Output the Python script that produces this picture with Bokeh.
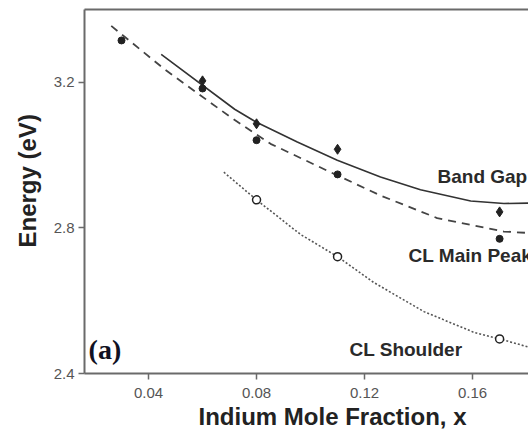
from bokeh.plotting import figure
from bokeh.models import LinearAxis, FixedTicker, Range1d, Title
from bokeh.embed import file_html
from bokeh.resources import INLINE
from bokeh.core.properties import value

# ---- data ----
band_gap_x = [0.06, 0.08, 0.11, 0.17]
band_gap_y = [3.204, 3.086, 3.016, 2.844]

main_peak_x = [0.03, 0.06, 0.08, 0.11, 0.17]
main_peak_y = [3.315, 3.183, 3.041, 2.947, 2.770]

shoulder_x = [0.08, 0.11, 0.17]
shoulder_y = [2.877, 2.721, 2.495]

band_gap_fit_x = [0.0447, 0.0719, 0.0800, 0.0951, 0.1099, 0.1259, 0.1407, 0.1593, 0.1716, 0.1810]
band_gap_fit_y = [3.277, 3.126, 3.090, 3.036, 2.986, 2.940, 2.905, 2.874, 2.867, 2.868]

main_peak_fit_x = [0.0262, 0.0459, 0.0706, 0.0852, 0.1074, 0.1259, 0.1469, 0.1716, 0.1810]
main_peak_fit_y = [3.355, 3.236, 3.103, 3.031, 2.953, 2.889, 2.827, 2.790, 2.786]

shoulder_fit_x = [0.0679, 0.0800, 0.0963, 0.1100, 0.1234, 0.1420, 0.1605, 0.1700, 0.1810]
shoulder_fit_y = [2.953, 2.877, 2.782, 2.721, 2.650, 2.570, 2.513, 2.495, 2.472]

series_labels = ["Band Gap", "CL Main Peak", "CL Shoulder"]
panel_label = "(a)"
x_title = "Indium Mole Fraction, x"
y_title = "Energy (eV)"

x_ticks = [0.04, 0.08, 0.12, 0.16]
y_ticks = [2.4, 2.8, 3.2]

# ---- figure ----
FONT = "Liberation Sans"
AX = "#6a6a6a"
INK = "#222222"

p = figure(width=528, height=433, output_backend="svg", toolbar_location=None,
           x_range=Range1d(0.0163, 0.1807), y_range=Range1d(2.4, 3.4),
           min_border_left=84, min_border_right=0, min_border_top=9, min_border_bottom=60)
p.outline_line_color = None
p.grid.visible = False
p.background_fill_color = "white"

for ax in (p.xaxis[0], p.yaxis[0]):
    ax.axis_line_color = AX
    ax.axis_line_width = 2
    ax.major_tick_line_color = AX
    ax.major_tick_line_width = 1.5
    ax.major_tick_in = 0
    ax.major_tick_out = 6
    ax.minor_tick_line_color = None
    ax.major_label_text_font = FONT
    ax.major_label_text_font_size = "15px"
    ax.major_label_text_color = "#555555"

p.xaxis[0].ticker = FixedTicker(ticks=x_ticks)
p.yaxis[0].ticker = FixedTicker(ticks=y_ticks)
p.xaxis[0].major_label_standoff = 8
p.yaxis[0].major_label_standoff = 4
p.xaxis[0].major_label_overrides = {t: f"{t:.2f}" for t in x_ticks}
p.yaxis[0].major_label_overrides = {t: f"{t:.1f}" for t in y_ticks}

top = LinearAxis(axis_line_color=AX, axis_line_width=2, ticker=FixedTicker(ticks=[]),
                 major_tick_line_color=None, minor_tick_line_color=None,
                 major_label_standoff=0, major_tick_out=0, major_tick_in=0)
p.add_layout(top, "above")

# axis titles, placed like in the (right-cropped) reference
p.add_layout(Title(text=x_title, align="left", offset=114, standoff=0,
                   text_font=FONT, text_font_style="bold", text_font_size="24px",
                   text_color=INK), "below")
p.add_layout(Title(text=y_title, align="left", offset=126, standoff=20,
                   text_font=FONT, text_font_style="bold", text_font_size="24px",
                   text_color=INK), "left")

# fitted curves
p.line(band_gap_fit_x, band_gap_fit_y, line_color="#333333", line_width=1.6)
p.line(main_peak_fit_x, main_peak_fit_y, line_color="#444444", line_width=1.8, line_dash="8 6")
p.line(shoulder_fit_x, shoulder_fit_y, line_color="#555555", line_width=1.6, line_dash="2 2")

# points
p.scatter(band_gap_x, band_gap_y, marker="diamond", size=10, color=INK)
p.scatter(main_peak_x, main_peak_y, marker="circle", size=7, color=INK)
p.scatter(shoulder_x, shoulder_y, marker="circle", size=8, fill_color="white",
          line_color=INK, line_width=1.5)

# labels
p.text(x=[0.147, 0.1363, 0.1144], y=[2.940, 2.723, 2.465], text=series_labels,
       text_font=value(FONT), text_font_style="bold", text_font_size="19px",
       text_color="#2a2a2a", text_baseline="middle", text_align="left")
p.text(x=[0.0178], y=[2.467], text=[panel_label], text_font=value("Liberation Serif"),
       text_font_style="bold", text_font_size="28px", text_color="#111122",
       text_baseline="middle", text_align="left")

open("out.html", "w").write(file_html(p, INLINE))
